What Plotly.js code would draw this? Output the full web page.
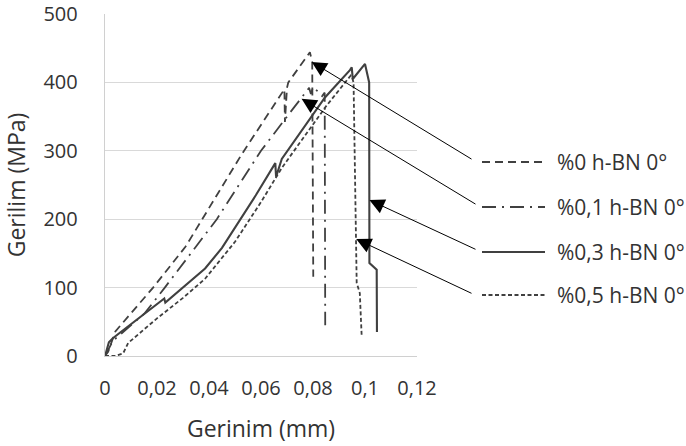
<!DOCTYPE html>
<html>
<head>
<meta charset="utf-8">
<script src="https://cdn.plot.ly/plotly-3.0.1.min.js"></script>
<style>
  html, body { margin: 0; padding: 0; background: #ffffff; }
  #chart { width: 686px; height: 446px; }
</style>
</head>
<body>
<div id="chart"></div>
<script>
// ---- data ----
const seriesNames = ['%0 h-BN 0°', '%0,1 h-BN 0°', '%0,3 h-BN 0°', '%0,5 h-BN 0°'];

const strain0  = [0, 0.0012, 0.004, 0.0185, 0.031, 0.0526, 0.069, 0.0692, 0.0700, 0.0705, 0.0788, 0.0797, 0.0801];
const stress0  = [0, 6, 36, 100, 160, 295, 390, 342, 392, 400, 444, 430, 116];

const strain01 = [0, 0.003, 0.0154, 0.023, 0.043, 0.060, 0.071, 0.0756, 0.0785, 0.0792, 0.080, 0.0815, 0.0835, 0.0845, 0.0847];
const stress01 = [0, 22, 63, 100, 200, 300, 355, 378, 392, 383, 393, 388, 380, 385, 45];

const strain03 = [0, 0.0015, 0.003, 0.012, 0.0228, 0.0232, 0.030, 0.0385, 0.045, 0.050, 0.058, 0.0655, 0.0658, 0.068, 0.0846, 0.0942, 0.0949, 0.0953, 0.1000, 0.1010, 0.1016, 0.1017, 0.1045, 0.1046];
const stress03 = [0, 20, 26, 52, 84, 78, 100, 128, 158, 187, 235, 282, 262, 288, 378, 418, 422, 405, 427, 410, 400, 136, 126, 35];

const strain05 = [0, 0.004, 0.007, 0.0089, 0.020, 0.030, 0.0385, 0.050, 0.060, 0.068, 0.085, 0.0945, 0.0952, 0.0956, 0.0968, 0.098, 0.0987];
const stress05 = [0, 0, 4, 19, 55, 85, 113, 167, 225, 275, 365, 410, 405, 400, 107, 92, 31];

const xTickVals = [0, 0.02, 0.04, 0.06, 0.08, 0.1, 0.12];
const xTickText = ['0', '0,02', '0,04', '0,06', '0,08', '0,1', '0,12'];
const yTickVals = [0, 100, 200, 300, 400, 500];
const yTickText = ['0', '100', '200', '300', '400', '500'];

// arrow tips (data points on each curve the callouts point at)
const tipStrain = [0.0795, 0.0756, 0.1017, 0.0966];
const tipStress = [430, 376, 228, 171];

// ---- styling / layout ----
const FONT = 'Open Sans, Lato, sans-serif';
const INK = '#404040';
const TXT = '#333333';
const dashes = ['8px,5px', '14px,6px,2px,6px', 'solid', '4px,2.5px'];
const widths = [1.8, 1.8, 2.1, 1.8];

const W = 686, H = 446;
const L = 105, R = 417, T = 14, B = 356;
const xMax = 0.12, yMax = 500;
const px2x = px => (px - L) / (R - L);       // pixel -> paper x
const py2y = py => (B - py) / (B - T);       // pixel -> paper y
const dx2px = v => L + v / xMax * (R - L);
const dy2py = v => B - v / yMax * (B - T);

const xs = [strain0, strain01, strain03, strain05];
const ys = [stress0, stress01, stress03, stress05];

const traces = xs.map((x, i) => ({
  type: 'scatter', mode: 'lines', name: seriesNames[i],
  x: x, y: ys[i],
  line: { color: INK, width: widths[i], dash: dashes[i] },
  showlegend: false, hoverinfo: 'skip'
}));

// custom legend (line sample + label) to the right of the plot
const legRowY = [162, 207, 252, 295];
const legLineX0 = 482, legLineX1 = 545, legTextX = 555;
const tails = [[473, 160], [477, 205], [477, 250], [473, 294]];

const shapes = [];
const annotations = [];
for (let i = 0; i < 4; i++) {
  shapes.push({
    type: 'line', xref: 'paper', yref: 'paper',
    x0: px2x(legLineX0), x1: px2x(legLineX1), y0: py2y(legRowY[i]), y1: py2y(legRowY[i]),
    line: { color: INK, width: widths[i], dash: dashes[i] }
  });
  annotations.push({
    xref: 'paper', yref: 'paper', x: px2x(legTextX), y: py2y(legRowY[i]),
    xanchor: 'left', yanchor: 'middle', showarrow: false,
    text: seriesNames[i], font: { family: FONT, size: 21, color: TXT }
  });
  const tx = dx2px(tipStrain[i]), ty = dy2py(tipStress[i]);
  annotations.push({
    xref: 'x', yref: 'y', x: tipStrain[i], y: tipStress[i],
    ax: tails[i][0] - tx, ay: tails[i][1] - ty,
    text: '', showarrow: true, arrowhead: 2, arrowsize: 3.0, arrowwidth: 1.0,
    arrowcolor: '#000000', standoff: 0
  });
}

const layout = {
  width: W, height: H,
  margin: { l: L, r: W - R, t: T, b: H - B, pad: 0 },
  paper_bgcolor: '#ffffff', plot_bgcolor: '#ffffff',
  font: { family: FONT, color: TXT },
  showlegend: false,
  xaxis: {
    range: [0, xMax], tickvals: xTickVals, ticktext: xTickText,
    showgrid: false, zeroline: false, showline: true, linecolor: '#d0d0d0', linewidth: 1.3,
    ticks: '', ticklabelstandoff: 14,
    tickfont: { family: FONT, size: 20, color: TXT },
    title: { text: 'Gerinim (mm)', font: { family: FONT, size: 23, color: TXT }, standoff: 20 },
    fixedrange: true
  },
  yaxis: {
    range: [0, yMax], tickvals: yTickVals, ticktext: yTickText,
    showgrid: true, gridcolor: '#d9d9d9', gridwidth: 1.3,
    zeroline: false, showline: true, linecolor: '#d0d0d0', linewidth: 1.3,
    ticks: '', ticklabelstandoff: 22,
    tickfont: { family: FONT, size: 20, color: TXT },
    title: { text: 'Gerilim (MPa)', font: { family: FONT, size: 23, color: TXT }, standoff: 14 },
    fixedrange: true
  },
  shapes: shapes,
  annotations: annotations
};

Plotly.newPlot('chart', traces, layout, { staticPlot: true, displayModeBar: false });
</script>
</body>
</html>
